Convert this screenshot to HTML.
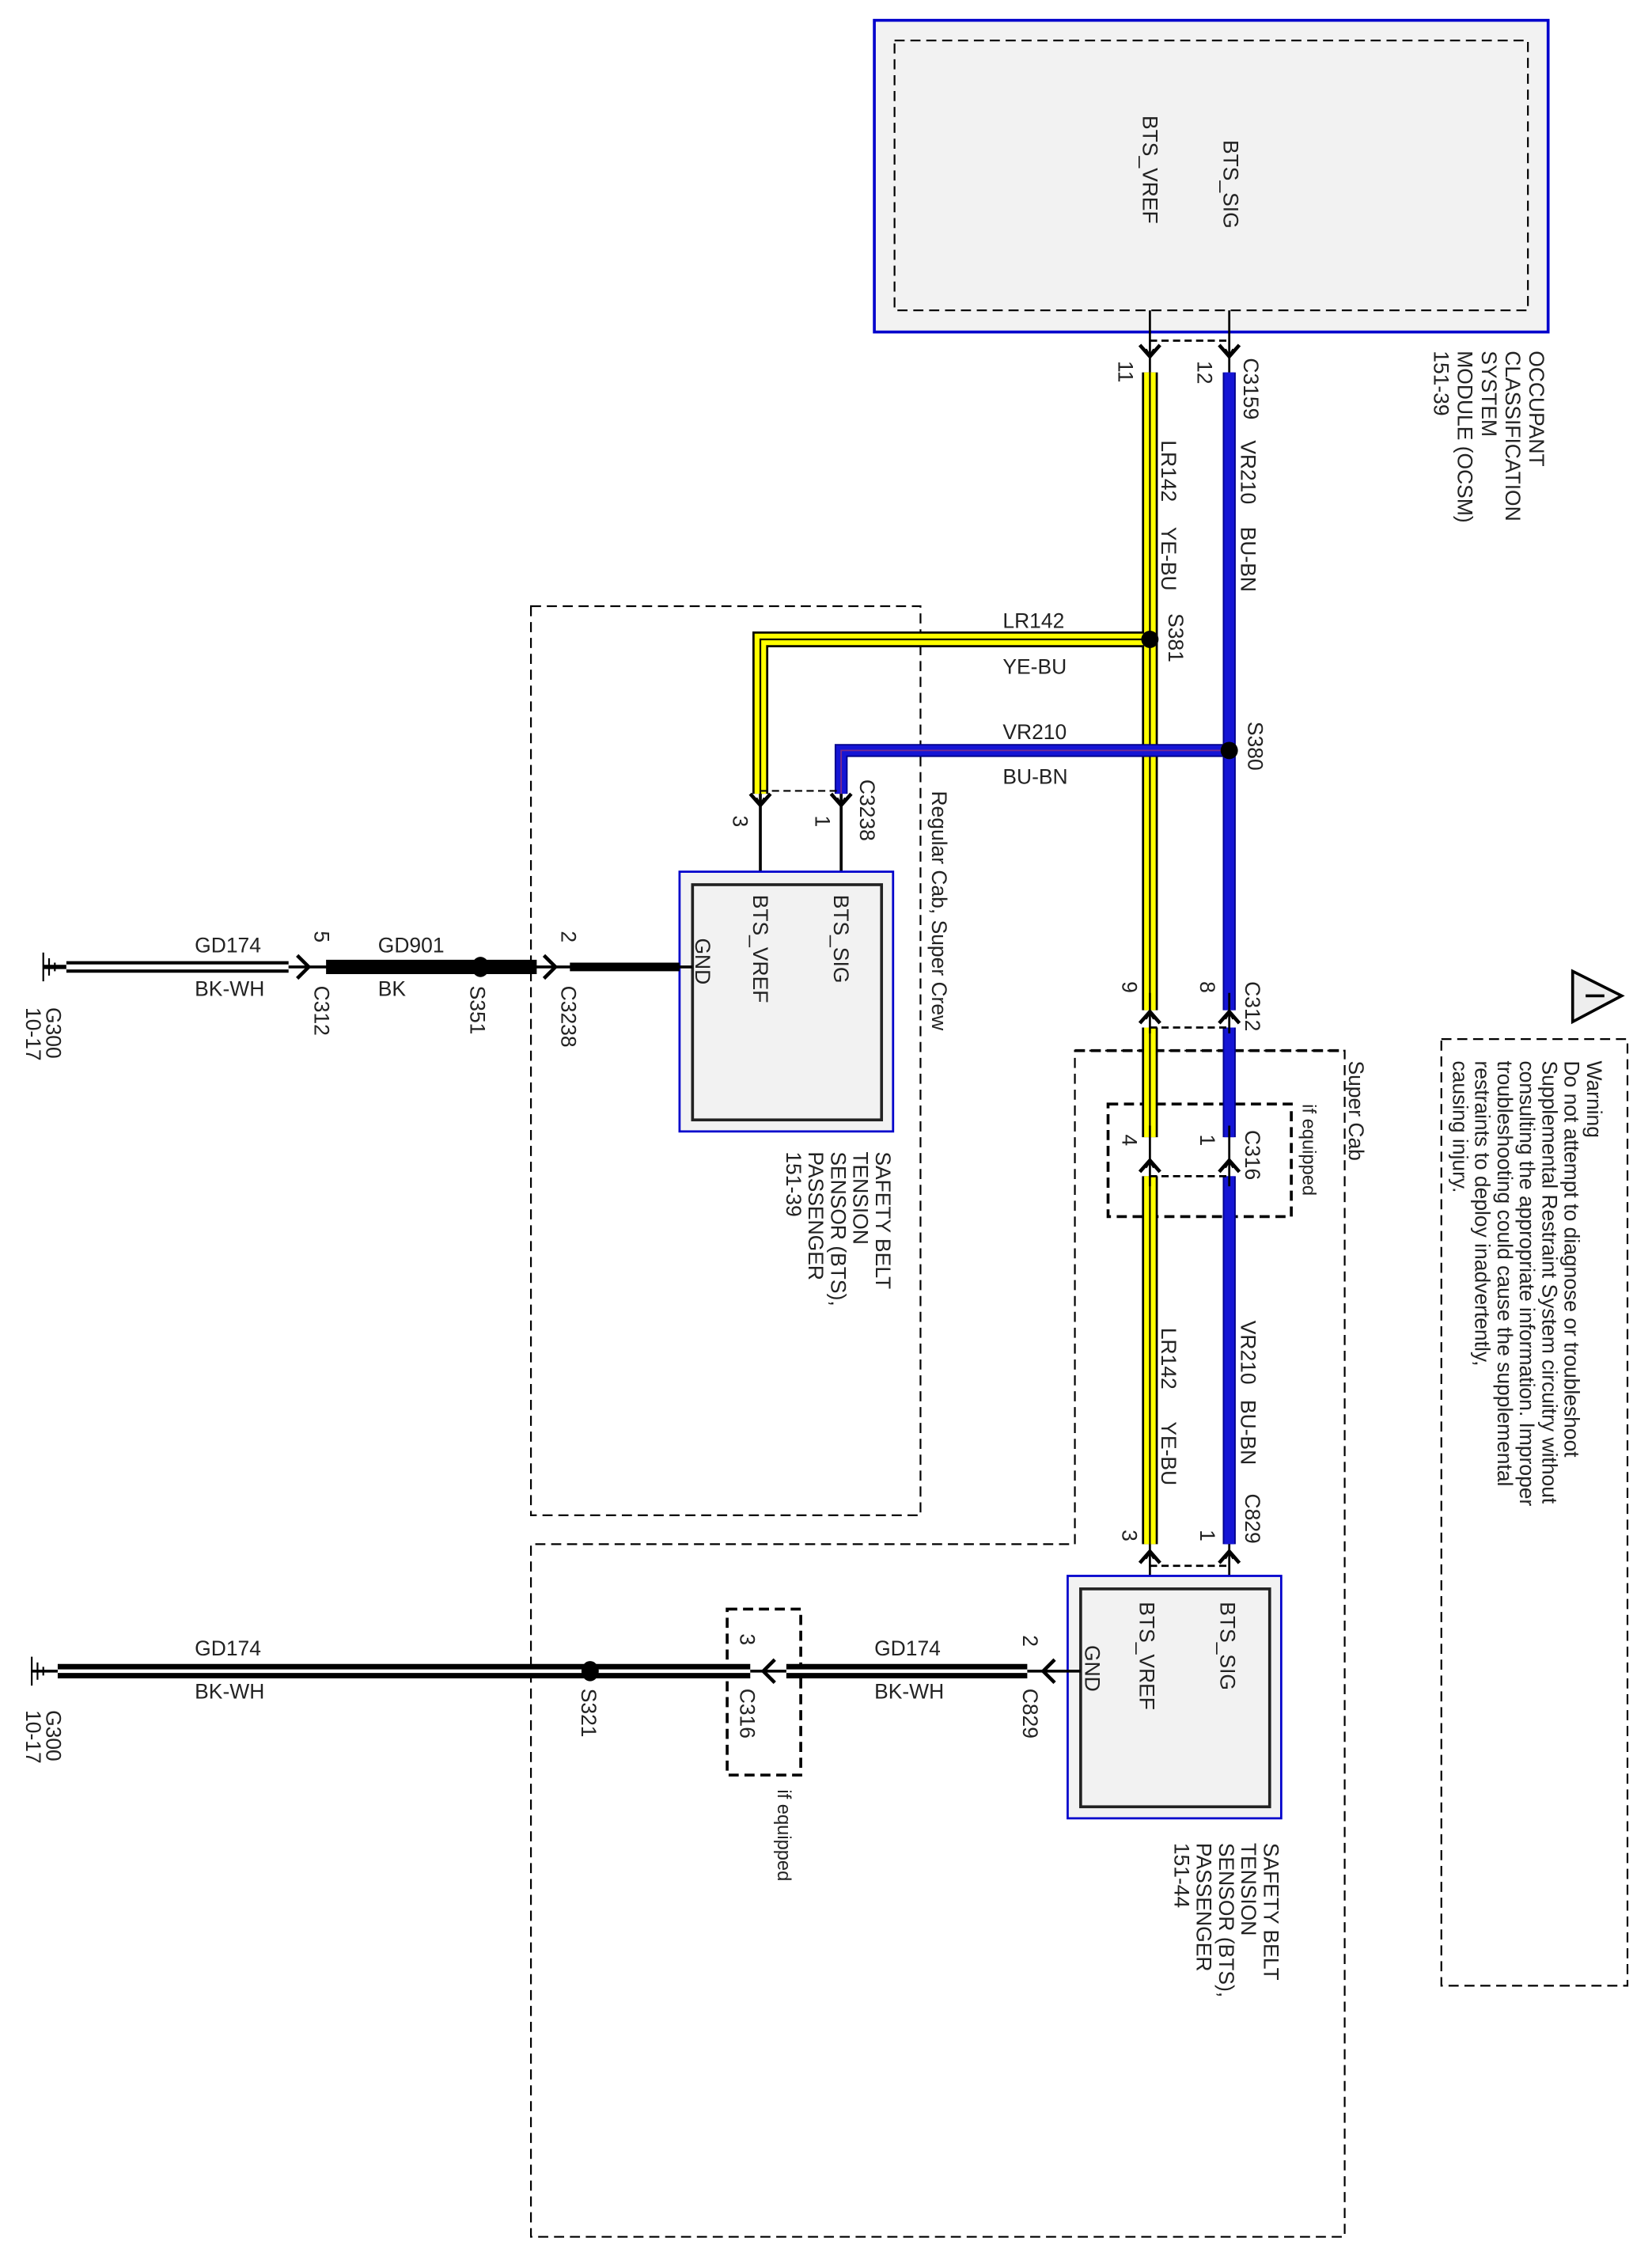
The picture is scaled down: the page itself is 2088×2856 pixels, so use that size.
<!DOCTYPE html>
<html><head><meta charset="utf-8"><style>
html,body{margin:0;padding:0;background:#fff;}
svg{display:block;}
text{font-family:"Liberation Sans",sans-serif;font-size:14.5px;fill:#222;}
</style></head><body>
<svg width="2088" height="2856" viewBox="0 0 1145 1566" xmlns="http://www.w3.org/2000/svg">
<defs>
<g id="adn"><path d="M-7,-6 L0,2 L7,-6" fill="none" stroke="#000" stroke-width="2.5"/><path d="M-3,-3 L0,2 L3,-3" fill="none" stroke="#000" stroke-width="2"/></g>
<g id="aup"><path d="M-7,6 L0,-2 L7,6" fill="none" stroke="#000" stroke-width="2.5"/><path d="M-3,3 L0,-2 L3,3" fill="none" stroke="#000" stroke-width="2"/></g>
</defs>
<rect width="1145" height="1566" fill="#fff"/>

<!-- dashed regions -->
<g fill="none" stroke="#000" stroke-width="1.2" stroke-dasharray="7,4">
<rect x="368" y="420" width="270" height="630"/>
<path d="M745,1070 L745,728 L932,728 L932,1550 L368,1550 L368,1070 Z"/>
<rect x="999" y="720" width="129" height="656"/>
</g>
<g fill="none" stroke="#000" stroke-width="2" stroke-dasharray="7,4">
<rect x="768" y="765" width="127" height="78"/>
<path d="M745,728 L932,728"/>
<rect x="504" y="1115" width="51" height="115"/>
</g>

<!-- OCSM box -->
<rect x="606" y="14" width="467" height="216" fill="#f2f2f2" stroke="#0000cc" stroke-width="2"/>
<rect x="620" y="28" width="439" height="187" fill="none" stroke="#000" stroke-width="1.2" stroke-dasharray="7,4"/>
<text transform="translate(848,97) rotate(90)">BTS_SIG</text>
<text transform="translate(792,80) rotate(90)">BTS_VREF</text>
<path d="M797,215 V258 M852,215 V258" stroke="#000" stroke-width="1.5"/>
<path d="M797,236 H852" stroke="#000" stroke-width="1.5" stroke-dasharray="5,3"/>
<use href="#adn" x="797" y="245"/><use href="#adn" x="852" y="245"/>
<text transform="translate(775,250) rotate(90)">11</text>
<text transform="translate(830,250) rotate(90)">12</text>
<text transform="translate(862,248) rotate(90)">C3159</text>
<text transform="translate(1060,243) rotate(90)">OCCUPANT<tspan x="0" dy="16.5">CLASSIFICATION</tspan><tspan x="0" dy="16.5">SYSTEM</tspan><tspan x="0" dy="16.5">MODULE (OCSM)</tspan><tspan x="0" dy="16.5">151-39</tspan></text>

<!-- wires -->
<g fill="none">
<path d="M797,258 V700 M797,712 V788 M797,815 V1070 M797,443 H527 V550" stroke="#000" stroke-width="11"/>
<path d="M797,258 V700 M797,712 V788 M797,815 V1070 M797,443 H527 V550" stroke="#ffff00" stroke-width="8"/>
<path d="M797,258 V700 M797,712 V788 M797,815 V1070 M797,443 H527 V550" stroke="#000" stroke-width="1.2"/>
<path d="M852,258 V700 M852,712 V788 M852,815 V1070 M852,520 H583 V550" stroke="#00008b" stroke-width="9"/>
<path d="M852,258 V700 M852,712 V788 M852,815 V1070 M852,520 H583 V550" stroke="#1515d5" stroke-width="7"/>
<path d="M852,520 H583 V550" stroke="#7a2a8a" stroke-width="1"/>
</g>
<circle cx="797" cy="443" r="6" fill="#000"/><circle cx="852" cy="520" r="6" fill="#000"/>
<text transform="translate(805,305) rotate(90)">LR142</text>
<text transform="translate(805,365) rotate(90)">YE-BU</text>
<text transform="translate(860,305) rotate(90)">VR210</text>
<text transform="translate(860,365) rotate(90)">BU-BN</text>
<text transform="translate(810,425) rotate(90)">S381</text>
<text transform="translate(865,500) rotate(90)">S380</text>
<text x="695" y="435">LR142</text><text x="695" y="467">YE-BU</text>
<text x="695" y="512">VR210</text><text x="695" y="543">BU-BN</text>

<!-- C3238 -->
<path d="M527,550 V613 M583,550 V613" stroke="#000" stroke-width="2"/>
<path d="M527,548 H583" stroke="#000" stroke-width="1.2" stroke-dasharray="5,3"/>
<use href="#adn" x="527" y="556"/><use href="#adn" x="583" y="556"/>
<text transform="translate(508,565) rotate(90)">3</text>
<text transform="translate(565,565) rotate(90)">1</text>
<text transform="translate(596,540) rotate(90)">C3238</text>
<text transform="translate(646,548) rotate(90)">Regular Cab, Super Crew</text>

<!-- BTS box 1 -->
<rect x="471" y="604" width="148" height="180" fill="#f2f2f2" stroke="#0000cc" stroke-width="1.5"/>
<rect x="480" y="613" width="131" height="163" fill="#f2f2f2" stroke="#222" stroke-width="2"/>
<text transform="translate(578,620) rotate(90)">BTS_SIG</text>
<text transform="translate(522,620) rotate(90)">BTS_VREF</text>
<text transform="translate(482,650) rotate(90)">GND</text>
<text transform="translate(607,798) rotate(90)">SAFETY BELT<tspan x="0" dy="15.5">TENSION</tspan><tspan x="0" dy="15.5">SENSOR (BTS),</tspan><tspan x="0" dy="15.5">PASSENGER</tspan><tspan x="0" dy="15.5">151-39</tspan></text>

<!-- ground wire 1 -->
<path d="M30,660 V680 M34,664 V676 M38,667 V673" stroke="#000" stroke-width="1.2"/>
<path d="M30,670 H46" stroke="#000" stroke-width="3"/>
<path d="M46,670 H200" stroke="#000" stroke-width="8"/><path d="M46,670 H200" stroke="#fff" stroke-width="3.5"/>
<path d="M200,670 H480" stroke="#000" stroke-width="2"/>
<path d="M226,670 H330 M336,670 H372" stroke="#000" stroke-width="10"/>
<path d="M395,670 H471" stroke="#000" stroke-width="6"/>
<ellipse cx="333" cy="670" rx="6" ry="7" fill="#000"/>
<path d="M206,662 L214,670 L206,678" fill="none" stroke="#000" stroke-width="2.5"/>
<path d="M377,662 L385,670 L377,678" fill="none" stroke="#000" stroke-width="2.5"/>
<text x="135" y="660">GD174</text><text x="135" y="690">BK-WH</text>
<text x="262" y="660">GD901</text><text x="262" y="690">BK</text>
<text transform="translate(218,645) rotate(90)">5</text>
<text transform="translate(218,683) rotate(90)">C312</text>
<text transform="translate(326,683) rotate(90)">S351</text>
<text transform="translate(389,645) rotate(90)">2</text>
<text transform="translate(389,683) rotate(90)">C3238</text>
<text transform="translate(32,698) rotate(90)">G300<tspan x="0" dy="14">10-17</tspan></text>

<!-- C312 lower / C316 -->
<path d="M797,688 V716 M852,688 V716 M797,780 V822 M852,780 V822" stroke="#000" stroke-width="1.5"/>
<path d="M797,712 H852 M797,815 H852" stroke="#000" stroke-width="1.5" stroke-dasharray="5,3"/>
<use href="#aup" x="797" y="703"/><use href="#aup" x="852" y="703"/>
<use href="#aup" x="797" y="806"/><use href="#aup" x="852" y="806"/>
<text transform="translate(778,680) rotate(90)">9</text>
<text transform="translate(832,680) rotate(90)">8</text>
<text transform="translate(863,680) rotate(90)">C312</text>
<text transform="translate(778,786) rotate(90)">4</text>
<text transform="translate(832,786) rotate(90)">1</text>
<text transform="translate(863,783) rotate(90)">C316</text>
<text transform="translate(903,765) rotate(90)" style="font-size:13px">if equipped</text>
<text transform="translate(935,735) rotate(90)">Super Cab</text>
<text transform="translate(805,920) rotate(90)">LR142</text>
<text transform="translate(805,985) rotate(90)">YE-BU</text>
<text transform="translate(860,915) rotate(90)">VR210</text>
<text transform="translate(860,970) rotate(90)">BU-BN</text>
<text transform="translate(863,1035) rotate(90)">C829</text>
<text transform="translate(778,1060) rotate(90)">3</text>
<text transform="translate(832,1060) rotate(90)">1</text>
<path d="M797,1070 V1101 M852,1070 V1101" stroke="#000" stroke-width="1.5"/>
<path d="M797,1085 H852" stroke="#000" stroke-width="1.5" stroke-dasharray="5,3"/>
<use href="#aup" x="797" y="1077"/><use href="#aup" x="852" y="1077"/>

<!-- BTS box 2 -->
<rect x="740" y="1092" width="148" height="168" fill="#f2f2f2" stroke="#0000cc" stroke-width="1.5"/>
<rect x="749" y="1101" width="131" height="151" fill="#f2f2f2" stroke="#222" stroke-width="2"/>
<text transform="translate(846,1110) rotate(90)">BTS_SIG</text>
<text transform="translate(790,1110) rotate(90)">BTS_VREF</text>
<text transform="translate(752,1140) rotate(90)">GND</text>
<text transform="translate(876,1277) rotate(90)">SAFETY BELT<tspan x="0" dy="15.5">TENSION</tspan><tspan x="0" dy="15.5">SENSOR (BTS),</tspan><tspan x="0" dy="15.5">PASSENGER</tspan><tspan x="0" dy="15.5">151-44</tspan></text>

<!-- ground wire 2 -->
<path d="M22,1148 V1168 M26,1152 V1164 M30,1155 V1161" stroke="#000" stroke-width="1.2"/>
<path d="M22,1158 H749" stroke="#000" stroke-width="2"/>
<path d="M40,1158 H520 M545,1158 H712" stroke="#000" stroke-width="10"/>
<path d="M40,1158 H520 M545,1158 H712" stroke="#fff" stroke-width="2.5"/>
<ellipse cx="409" cy="1158" rx="6" ry="7" fill="#000"/>
<path d="M537,1150 L529,1158 L537,1166" fill="none" stroke="#000" stroke-width="2.5"/>
<path d="M731,1150 L723,1158 L731,1166" fill="none" stroke="#000" stroke-width="2.5"/>
<text x="135" y="1147">GD174</text><text x="135" y="1177">BK-WH</text>
<text x="606" y="1147">GD174</text><text x="606" y="1177">BK-WH</text>
<text transform="translate(513,1132) rotate(90)">3</text>
<text transform="translate(513,1170) rotate(90)">C316</text>
<text transform="translate(539,1240) rotate(90)" style="font-size:13px">if equipped</text>
<text transform="translate(403,1170) rotate(90)">S321</text>
<text transform="translate(709,1133) rotate(90)">2</text>
<text transform="translate(709,1170) rotate(90)">C829</text>
<text transform="translate(32,1185) rotate(90)">G300<tspan x="0" dy="14">10-17</tspan></text>

<!-- warning -->
<path d="M1090,673 L1124,690 L1090,708 Z" fill="#eee" stroke="#000" stroke-width="2"/>
<path d="M1099,690 H1112" stroke="#000" stroke-width="2"/>
<text transform="translate(1100,735) rotate(90)" style="font-size:14.5px">Warning<tspan x="0" dy="15.5">Do not attempt to diagnose or troubleshoot</tspan><tspan x="0" dy="15.5">Supplemental Restraint System circuitry without</tspan><tspan x="0" dy="15.5">consulting the appropriate information. Improper</tspan><tspan x="0" dy="15.5">troubleshooting could cause the supplemental</tspan><tspan x="0" dy="15.5">restraints to deploy inadvertently,</tspan><tspan x="0" dy="15.5">causing injury.</tspan></text>
</svg>
</body></html>
